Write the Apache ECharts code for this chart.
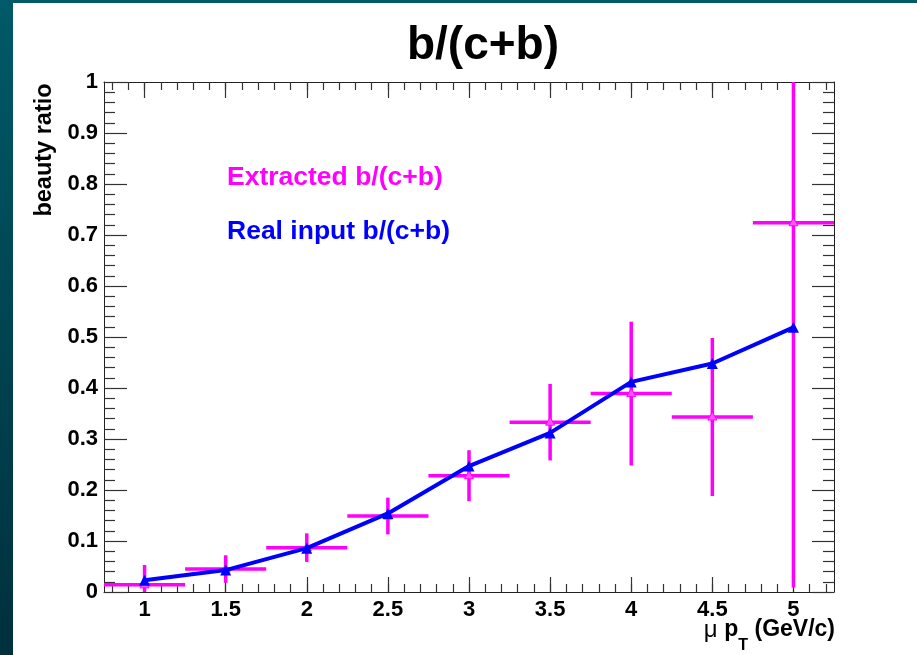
<!DOCTYPE html>
<html>
<head>
<meta charset="utf-8">
<script src="https://cdn.jsdelivr.net/npm/echarts@6/dist/echarts.min.js"></script>
<style>
  html, body { margin:0; padding:0; width:917px; height:655px; overflow:hidden; }
  #bg { position:absolute; left:0; top:0; width:917px; height:655px;
        background: linear-gradient(to bottom, #005a68 0%, #004452 50%, #00303c 100%); }
  #paper { position:absolute; left:13px; top:3px; width:904px; height:652px; background:#ffffff; }
  #chart { position:absolute; left:0; top:0; width:917px; height:655px; }
</style>
</head>
<body>
<div id="bg"></div>
<div id="paper"></div>
<div id="chart"></div>
<script>
// ---- data ----
const ptBins = [1, 1.5, 2, 2.5, 3, 3.5, 4, 4.5, 5];
const extractedValues = [0.014, 0.045, 0.087, 0.149, 0.228, 0.333, 0.389, 0.343, 0.724];
const extractedErrors = [0.039, 0.027, 0.028, 0.036, 0.050, 0.075, 0.141, 0.155, 0.715];
const realInputValues = [0.023, 0.043, 0.086, 0.154, 0.247, 0.312, 0.412, 0.448, 0.519];
const binHalfWidth = 0.25;
const xTickLabels = [1, 1.5, 2, 2.5, 3, 3.5, 4, 4.5, 5];
const xMinorTicks = [0.8,0.9,1.0,1.1,1.2,1.3,1.4,1.5,1.6,1.7,1.8,1.9,2.0,2.1,2.2,2.3,2.4,2.5,2.6,2.7,2.8,2.9,3.0,3.1,3.2,3.3,3.4,3.5,3.6,3.7,3.8,3.9,4.0,4.1,4.2,4.3,4.4,4.5,4.6,4.7,4.8,4.9,5.0,5.1,5.2];
const xRange = [0.75, 5.25];
const yRange = [0, 1];

const extractedData = ptBins.map((x, i) => [x, extractedValues[i], extractedErrors[i]]);
const realData = ptBins.map((x, i) => [x, realInputValues[i]]);

const MAG = '#ff00ff', BLUE = '#0000ff', TICK = '#333333', LINE = '#222222';
const FONT = '"Liberation Sans", Arial, Helvetica, sans-serif';

function renderErr(params, api) {
  const x = api.value(0), y = api.value(1), e = api.value(2);
  const c = api.coord([x, y]);
  const t = api.coord([x, y + e]);
  const b = api.coord([x, y - e]);
  const l = api.coord([x - binHalfWidth, y]);
  const r = api.coord([x + binHalfWidth, y]);
  const st = { stroke: MAG, lineWidth: 3.5 };
  return {
    type: 'group',
    children: [
      { type: 'line', shape: { x1: l[0], y1: l[1], x2: r[0], y2: r[1] }, style: st },
      { type: 'line', shape: { x1: t[0], y1: t[1], x2: b[0], y2: b[1] }, style: st },
      { type: 'polygon', shape: { points: [[c[0], c[1] - 5], [c[0] - 4.5, c[1] + 3], [c[0] + 4.5, c[1] + 3]] },
        style: { fill: '#ff55ff', stroke: MAG, lineWidth: 1 } }
    ]
  };
}

const baseX = {
  type: 'value', min: xRange[0], max: xRange[1],
  splitLine: { show: false }
};

const chart = echarts.init(document.getElementById('chart'), null, { renderer: 'canvas' });
chart.setOption({
  animation: false,
  backgroundColor: 'transparent',
  textStyle: { fontFamily: FONT },
  title: {
    text: 'b/(c+b)', left: 478, top: 18, textAlign: 'center',
    textStyle: { fontFamily: FONT, fontSize: 46, fontWeight: 'bold', color: '#000' }
  },
  legend: {
    orient: 'vertical', left: 217, top: 159, itemGap: 27, itemWidth: 0, itemHeight: 14,
    icon: 'none', selectedMode: false,
    textStyle: { fontFamily: FONT, fontSize: 26.5, fontWeight: 'bold' },
    data: [
      { name: 'Extracted b/(c+b)', textStyle: { color: MAG } },
      { name: 'Real input b/(c+b)', textStyle: { color: BLUE } }
    ]
  },
  grid: { left: 104, right: 83, top: 82, bottom: 63 },
  xAxis: [
    Object.assign({}, baseX, {
      position: 'bottom',
      axisLine: { show: true, onZero: false, lineStyle: { color: LINE, width: 1 } },
      axisTick: { show: true, inside: true, length: 15, customValues: xTickLabels, lineStyle: { color: TICK, width: 1.2 } },
      axisLabel: { show: true, customValues: xTickLabels, margin: 7, color: '#000',
        fontFamily: FONT, fontSize: 22, fontWeight: 'bold' }
    }),
    Object.assign({}, baseX, {
      position: 'bottom',
      axisLine: { show: false, onZero: false },
      axisTick: { show: true, inside: true, length: 8, customValues: xMinorTicks, lineStyle: { color: TICK, width: 1.2 } },
      axisLabel: { show: false }
    }),
    Object.assign({}, baseX, {
      position: 'top',
      axisLine: { show: true, onZero: false, lineStyle: { color: LINE, width: 1 } },
      axisTick: { show: true, inside: true, length: 16, customValues: xTickLabels, lineStyle: { color: TICK, width: 1.2 } },
      axisLabel: { show: false }
    }),
    Object.assign({}, baseX, {
      position: 'top',
      axisLine: { show: false, onZero: false },
      axisTick: { show: true, inside: true, length: 8, customValues: xMinorTicks, lineStyle: { color: TICK, width: 1.2 } },
      axisLabel: { show: false }
    })
  ],
  yAxis: [
    {
      type: 'value', min: yRange[0], max: yRange[1], interval: 0.1, position: 'left',
      splitLine: { show: false },
      axisLine: { show: true, onZero: false, lineStyle: { color: LINE, width: 1 } },
      axisTick: { show: true, inside: true, length: 23, lineStyle: { color: TICK, width: 1.2 } },
      minorTick: { show: true, splitNumber: 5, length: 11, lineStyle: { color: TICK, width: 1.2 } },
      axisLabel: { show: true, margin: 6, color: '#000', fontFamily: FONT, fontSize: 22, fontWeight: 'bold' }
    },
    {
      type: 'value', min: yRange[0], max: yRange[1], interval: 0.1, position: 'right',
      splitLine: { show: false },
      axisLine: { show: true, onZero: false, lineStyle: { color: LINE, width: 1 } },
      axisTick: { show: true, inside: true, length: 22, lineStyle: { color: TICK, width: 1.2 } },
      minorTick: { show: true, splitNumber: 5, length: 11, lineStyle: { color: TICK, width: 1.2 } },
      axisLabel: { show: false }
    }
  ],
  graphic: [
    {
      type: 'text', x: 45, y: 150, rotation: Math.PI / 2,
      style: { text: 'beauty ratio', fill: '#000', font: 'bold 23.5px ' + FONT, align: 'center', verticalAlign: 'middle' }
    },
    {
      type: 'text', x: 835, y: 618,
      style: {
        text: '{mu|\u03bc}  {b|p}{sub|T}{b| (GeV/c)}',
        align: 'right', verticalAlign: 'top',
        rich: {
          mu: { fontFamily: FONT, fontSize: 24, fontWeight: 'normal', lineHeight: 23, verticalAlign: 'top', fill: '#000' },
          b: { fontFamily: FONT, fontSize: 23, fontWeight: 'bold', lineHeight: 23, verticalAlign: 'top', fill: '#000' },
          sub: { fontFamily: FONT, fontSize: 16, fontWeight: 'bold', padding: [20, 0, 0, 0], verticalAlign: 'bottom', fill: '#000' }
        }
      }
    }
  ],
  series: [
    {
      name: 'Extracted b/(c+b)', type: 'custom', xAxisIndex: 0, yAxisIndex: 0,
      renderItem: renderErr, data: extractedData, clip: true, z: 2,
      itemStyle: { color: MAG },
      encode: { x: 0, y: 1 }
    },
    {
      name: 'Real input b/(c+b)', type: 'line', xAxisIndex: 0, yAxisIndex: 0,
      data: realData, z: 3,
      symbol: 'triangle', symbolSize: 11, showSymbol: true,
      lineStyle: { color: BLUE, width: 4 },
      itemStyle: { color: BLUE }
    }
  ]
});
</script>
</body>
</html>
